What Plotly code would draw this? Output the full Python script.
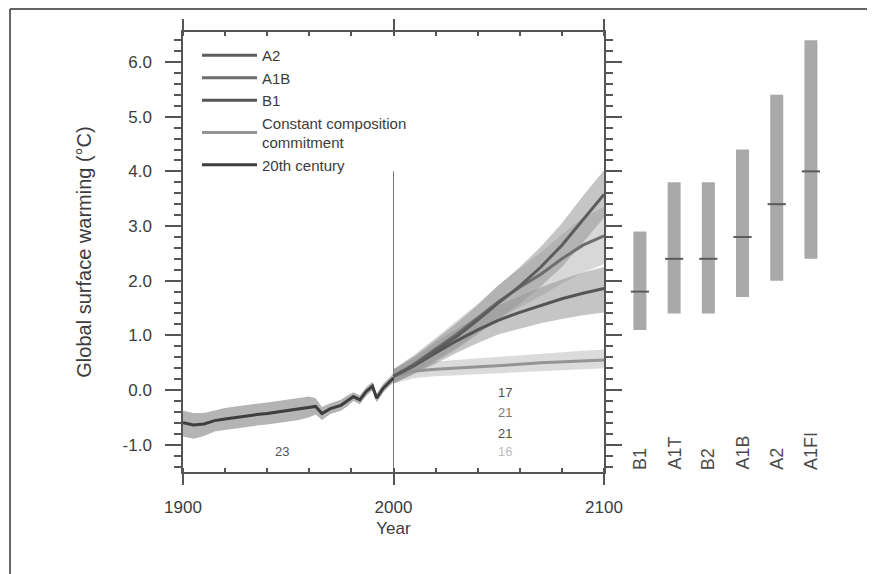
import plotly.graph_objects as go

# the page body has an 8px margin, so the figure is drawn 8px in from the window edge
OFF = 8
W, H = 875 - OFF, 574 - OFF


def px(x):
    return (x - OFF) / W


def py(y):
    return 1 - (y - OFF) / H


# ---- 20th century simulations (multi-model mean and spread) ----
hist_years = [1900, 1905, 1910, 1915, 1920, 1925, 1930, 1935, 1940, 1945, 1950, 1955,
              1960, 1963, 1966, 1970, 1975, 1978, 1981, 1984, 1987, 1990, 1992, 1995, 2000]
hist_mean = [-0.60, -0.64, -0.62, -0.56, -0.53, -0.50, -0.47, -0.45, -0.43, -0.40, -0.38, -0.35,
             -0.32, -0.30, -0.43, -0.34, -0.28, -0.20, -0.12, -0.18, -0.03, 0.07, -0.15, 0.03, 0.22]
hist_lo = [-0.85, -0.89, -0.84, -0.76, -0.73, -0.70, -0.67, -0.65, -0.63, -0.60, -0.58, -0.55,
           -0.50, -0.45, -0.55, -0.44, -0.38, -0.30, -0.20, -0.26, -0.11, -0.01, -0.23, -0.05, 0.14]
hist_hi = [-0.38, -0.42, -0.42, -0.37, -0.33, -0.30, -0.27, -0.25, -0.23, -0.20, -0.18, -0.15,
           -0.12, -0.15, -0.31, -0.24, -0.18, -0.10, -0.04, -0.10, 0.05, 0.15, -0.07, 0.11, 0.30]

# ---- 21st century projections ----
proj_years = [2000, 2010, 2020, 2030, 2040, 2050, 2060, 2070, 2080, 2090, 2100]
a2_mean = [0.25, 0.45, 0.72, 0.98, 1.28, 1.60, 1.90, 2.25, 2.65, 3.12, 3.58]
a2_lo = [0.12, 0.30, 0.52, 0.75, 1.02, 1.30, 1.58, 1.90, 2.25, 2.70, 3.15]
a2_hi = [0.38, 0.62, 0.92, 1.22, 1.55, 1.92, 2.25, 2.62, 3.05, 3.55, 4.02]
a1b_mean = [0.25, 0.48, 0.75, 1.02, 1.32, 1.62, 1.88, 2.12, 2.40, 2.65, 2.82]
a1b_lo = [0.12, 0.32, 0.55, 0.78, 1.05, 1.30, 1.52, 1.72, 1.95, 2.15, 2.30]
a1b_hi = [0.38, 0.65, 0.95, 1.26, 1.58, 1.92, 2.22, 2.52, 2.85, 3.15, 3.35]
b1_mean = [0.25, 0.45, 0.68, 0.90, 1.10, 1.28, 1.42, 1.55, 1.67, 1.77, 1.86]
b1_lo = [0.12, 0.30, 0.48, 0.68, 0.86, 1.02, 1.12, 1.22, 1.30, 1.37, 1.42]
b1_hi = [0.38, 0.60, 0.88, 1.12, 1.35, 1.55, 1.72, 1.88, 2.02, 2.15, 2.25]
cc_mean = [0.25, 0.35, 0.38, 0.40, 0.42, 0.45, 0.47, 0.50, 0.52, 0.54, 0.55]
cc_lo = [0.12, 0.22, 0.25, 0.27, 0.29, 0.31, 0.33, 0.35, 0.37, 0.38, 0.40]
cc_hi = [0.38, 0.48, 0.52, 0.55, 0.58, 0.61, 0.64, 0.67, 0.70, 0.72, 0.74]

# number of models
hist_count = "23"
proj_counts = ["17", "21", "21", "16"]

# year 2000 divider
divider_x = [2000, 2000]
divider_y = [-1.5, 4.0]

# y tick labels
y_ticks = [-1, 0, 1, 2, 3, 4, 5, 6]
y_ticktext = ["-1.0", "0.0", "1.0", "2.0", "3.0", "4.0", "5.0", "6.0"]

# ---- likely ranges for 2090-2099 ----
scenarios = ["B1", "A1T", "B2", "A1B", "A2", "A1FI"]
range_lo = [1.1, 1.4, 1.4, 1.7, 2.0, 2.4]
range_hi = [2.9, 3.8, 3.8, 4.4, 5.4, 6.4]
best_est = [1.8, 2.4, 2.4, 2.8, 3.4, 4.0]

FONT = "Liberation Sans, Arial, sans-serif"
TXT = "#3c3c3c"
AX = "#555555"
Y_RANGE = [-1.5, 6.55]

fig = go.Figure()


def add_band(x, lo, hi, fill):
    fig.add_trace(go.Scatter(x=x, y=lo, mode="lines", line=dict(width=0),
                             showlegend=False, hoverinfo="skip"))
    fig.add_trace(go.Scatter(x=x, y=hi, mode="lines", line=dict(width=0),
                             fill="tonexty", fillcolor=fill,
                             showlegend=False, hoverinfo="skip"))


# bands
add_band(proj_years, cc_lo, cc_hi, "rgba(175,175,175,0.45)")
add_band(proj_years, a1b_lo, a1b_hi, "rgba(190,190,190,0.6)")
add_band(proj_years, b1_lo, b1_hi, "rgba(150,150,150,0.55)")
add_band(proj_years, a2_lo, a2_hi, "rgba(150,150,150,0.55)")
add_band(hist_years, hist_lo, hist_hi, "rgba(130,130,130,0.6)")

# divider
fig.add_trace(go.Scatter(x=divider_x, y=divider_y, mode="lines",
                         line=dict(color="#777777", width=1),
                         showlegend=False, hoverinfo="skip"))

# mean lines (legend order A2, A1B, B1, commitment, 20th century)
fig.add_trace(go.Scatter(x=proj_years, y=cc_mean, mode="lines",
                         name="Constant composition<br>commitment", legendrank=4,
                         line=dict(color="#949494", width=3)))
fig.add_trace(go.Scatter(x=proj_years, y=b1_mean, mode="lines", name="B1", legendrank=3,
                         line=dict(color="#555555", width=3)))
fig.add_trace(go.Scatter(x=proj_years, y=a1b_mean, mode="lines", name="A1B", legendrank=2,
                         line=dict(color="#6e6e6e", width=3)))
fig.add_trace(go.Scatter(x=proj_years, y=a2_mean, mode="lines", name="A2", legendrank=1,
                         line=dict(color="#5c5c5c", width=3)))
fig.add_trace(go.Scatter(x=hist_years, y=hist_mean, mode="lines", name="20th century",
                         legendrank=5, line=dict(color="#3e3e3e", width=3)))

# likely range bars (right panel)
idx = list(range(len(scenarios)))
fig.add_trace(go.Bar(x=idx, y=[h - l for h, l in zip(range_hi, range_lo)], base=range_lo,
                     width=0.38, marker=dict(color="#a9a9a9", line=dict(width=0)),
                     xaxis="x2", yaxis="y2", showlegend=False, hoverinfo="skip"))
fig.add_trace(go.Scatter(x=idx, y=best_est, mode="markers", xaxis="x2", yaxis="y2",
                         marker=dict(symbol="line-ew", size=13,
                                     line=dict(color="#5a5a5a", width=2)),
                         showlegend=False, hoverinfo="skip"))

for i, s in enumerate(scenarios):
    fig.add_annotation(x=i, y=-1.5, xref="x2", yref="y2", text=s, textangle=-90,
                       showarrow=False, xanchor="center", yanchor="bottom",
                       font=dict(family=FONT, size=18, color="#4a4a4a"))

# model counts
fig.add_annotation(x=1947, y=-1.13, text=hist_count, showarrow=False,
                   font=dict(family=FONT, size=13, color="#555555"))
count_y = [-0.04, -0.42, -0.79, -1.13]
count_col = ["#505050", "#7a7a7a", "#505050", "#bdbdbd"]
for c, yy, col in zip(proj_counts, count_y, count_col):
    fig.add_annotation(x=2053, y=yy, text=c, showarrow=False,
                       font=dict(family=FONT, size=13, color=col))

# outer frame (left and top edges of the cropped figure box)
fig.add_shape(type="line", xref="paper", yref="paper", x0=px(10), x1=px(10),
              y0=0, y1=py(9), line=dict(color="#333333", width=1.5))
fig.add_shape(type="line", xref="paper", yref="paper", x0=px(10), x1=1,
              y0=py(9), y1=py(9), line=dict(color="#333333", width=1.5))

fig.update_layout(
    width=W, height=H,
    margin=dict(l=0, r=0, t=0, b=0, autoexpand=False),
    paper_bgcolor="white", plot_bgcolor="white",
    font=dict(family=FONT, color=TXT),
    xaxis=dict(
        domain=[px(183), px(604)], range=[1900, 2100], automargin=False,
        tickvals=[1900, 2000, 2100], ticks="outside", ticklen=11, tickwidth=1.5,
        tickcolor=AX, showline=True, linecolor=AX, linewidth=1.5, mirror="allticks",
        showgrid=False, zeroline=False, ticklabelstandoff=8,
        tickfont=dict(size=17, color=TXT),
        minor=dict(dtick=20, tick0=1900, ticks="inside", ticklen=4, tickcolor=AX),
        title=dict(text="Year", font=dict(size=17, color=TXT), standoff=6),
    ),
    yaxis=dict(
        domain=[py(472), py(32)], range=Y_RANGE, automargin=False,
        tickvals=y_ticks, ticktext=y_ticktext, ticks="outside", ticklen=16, tickwidth=1.5,
        tickcolor=AX, showline=True, linecolor=AX, linewidth=1.5, mirror="allticks",
        showgrid=False, zeroline=False, ticklabelstandoff=10,
        tickfont=dict(size=17, color=TXT),
        minor=dict(dtick=0.2, tick0=0, ticks="outside", ticklen=7, tickcolor=AX),
        title=dict(text="Global surface warming (°C)", font=dict(size=20, color=TXT),
                   standoff=26),
    ),
    xaxis2=dict(domain=[px(604), px(866)], range=[-1.05, 6.61], visible=False,
                anchor="y2"),
    yaxis2=dict(domain=[py(472), py(32)], range=Y_RANGE, visible=False, anchor="x2"),
    legend=dict(x=px(197), y=py(39), xanchor="left", yanchor="top",
                bgcolor="rgba(0,0,0,0)", font=dict(family=FONT, size=15, color=TXT),
                itemwidth=55, tracegroupgap=0, traceorder="normal"),
    showlegend=True,
)

fig.write_html("out.html")
